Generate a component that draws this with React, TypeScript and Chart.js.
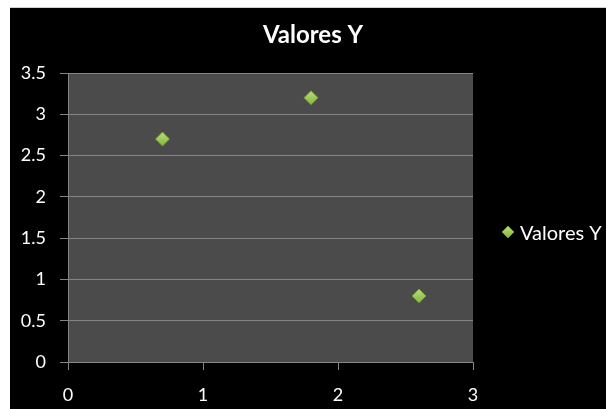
import { useEffect, useRef } from 'react';
import { Chart, registerables } from 'chart.js';

Chart.register(...registerables);

// Series data
const X_VALUES = [0.7, 1.8, 2.6];
const Y_VALUES = [2.7, 3.2, 0.8];
const SERIES_LABEL = 'Valores Y';
const CHART_TITLE = 'Valores Y';

// Axis ranges and tick steps
const X_RANGE = [0, 3];
const X_STEP = 1;
const Y_RANGE = [0, 3.5];
const Y_STEP = 0.5;

const FONT_FAMILY = 'Lato, "Open Sans", sans-serif';
const PLOT_BG = '#4b4b4b';
const GRID_COLOR = '#858585';
const MARKER_LIGHT = '#b8e070';
const MARKER_DARK = '#86b443';
const MARKER_EDGE = '#6f9a35';

// Fills the plot area and draws the heading and the series key.
const chartFrame = {
  id: 'chartFrame',
  beforeDraw(chart: any) {
    const { ctx, chartArea } = chart;
    ctx.save();
    ctx.fillStyle = PLOT_BG;
    ctx.fillRect(chartArea.left, chartArea.top, chartArea.right - chartArea.left, chartArea.bottom - chartArea.top);
    ctx.restore();
  },
  afterDraw(chart: any) {
    const { ctx } = chart;
    ctx.save();
    // heading
    ctx.fillStyle = '#ffffff';
    ctx.font = `bold 24px ${FONT_FAMILY}`;
    ctx.textAlign = 'center';
    ctx.textBaseline = 'alphabetic';
    ctx.fillText(CHART_TITLE, 303, 35);

    // key
    const mx = 498;
    const my = 224;
    const r = 6;
    const g = ctx.createLinearGradient(mx, my - r, mx, my + r);
    g.addColorStop(0, MARKER_LIGHT);
    g.addColorStop(1, MARKER_DARK);
    ctx.beginPath();
    ctx.moveTo(mx, my - r);
    ctx.lineTo(mx + r, my);
    ctx.lineTo(mx, my + r);
    ctx.lineTo(mx - r, my);
    ctx.closePath();
    ctx.fillStyle = g;
    ctx.fill();
    ctx.strokeStyle = MARKER_EDGE;
    ctx.lineWidth = 0.8;
    ctx.stroke();

    ctx.fillStyle = '#ffffff';
    ctx.font = `20px ${FONT_FAMILY}`;
    ctx.textAlign = 'left';
    ctx.fillText(SERIES_LABEL, 510, 232);
    ctx.restore();
  },
};

function markerFill(c: any) {
  const chart = c.chart;
  const p = c.parsed;
  if (!chart || !p || !chart.scales || !chart.scales.x || !chart.scales.y) return MARKER_DARK;
  const x = chart.scales.x.getPixelForValue(p.x);
  const y = chart.scales.y.getPixelForValue(p.y);
  if (!isFinite(x) || !isFinite(y)) return MARKER_DARK;
  const g = chart.ctx.createLinearGradient(x, y - 7, x, y + 7);
  g.addColorStop(0, MARKER_LIGHT);
  g.addColorStop(1, MARKER_DARK);
  return g;
}

export default function App() {
  const canvasRef = useRef<HTMLCanvasElement>(null);

  useEffect(() => {
    const canvas = canvasRef.current;
    if (!canvas) return;
    const tickFont = { family: FONT_FAMILY, size: 18 };
    const chart = new Chart(canvas, {
      type: 'scatter',
      data: {
        datasets: [
          {
            label: SERIES_LABEL,
            data: X_VALUES.map((x, i) => ({ x, y: Y_VALUES[i] })),
            pointStyle: 'rectRot',
            pointRadius: 7,
            pointHoverRadius: 7,
            backgroundColor: markerFill,
            borderColor: MARKER_EDGE,
            borderWidth: 0.8,
          },
        ],
      },
      options: {
        responsive: false,
        animation: false,
        events: [],
        layout: { padding: { top: 65, right: 133, left: 0, bottom: 0 } },
        plugins: {
          legend: { display: false },
          title: { display: false },
          tooltip: { enabled: false },
        },
        scales: {
          x: {
            type: 'linear',
            min: X_RANGE[0],
            max: X_RANGE[1],
            ticks: {
              stepSize: X_STEP,
              color: '#ffffff',
              font: tickFont,
              padding: 14,
              callback: (v: any) => String(v),
            },
            grid: {
              drawOnChartArea: false,
              drawTicks: true,
              tickLength: 8,
              tickColor: GRID_COLOR,
            },
            border: { color: GRID_COLOR, width: 1 },
            afterFit: (s: any) => {
              s.height = 47;
            },
          },
          y: {
            type: 'linear',
            min: Y_RANGE[0],
            max: Y_RANGE[1],
            ticks: {
              stepSize: Y_STEP,
              color: '#ffffff',
              font: tickFont,
              padding: 14,
              callback: (v: any) => String(v),
            },
            grid: {
              color: GRID_COLOR,
              drawTicks: true,
              tickLength: 8,
              tickColor: GRID_COLOR,
            },
            border: { color: GRID_COLOR, width: 1 },
            afterFit: (s: any) => {
              s.width = 58;
            },
          },
        },
      },
      plugins: [chartFrame],
    });
    return () => chart.destroy();
  }, []);

  return (
    <div style={{ position: 'absolute', left: 0, top: 0, width: 606, height: 409, background: '#ffffff', overflow: 'hidden' }}>
      <div style={{ position: 'absolute', left: 10, top: 7, width: 596, height: 402, background: '#000000', borderTop: '1px solid #d0d0d0', boxSizing: 'border-box' }}>
        <canvas ref={canvasRef} width={596} height={401} style={{ display: 'block' }} />
      </div>
    </div>
  );
}
